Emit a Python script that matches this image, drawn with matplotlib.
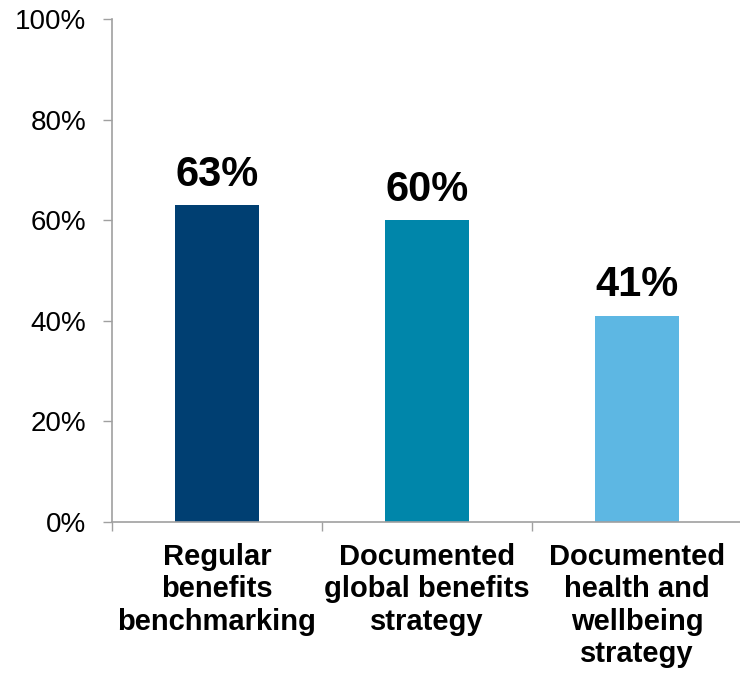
import matplotlib
matplotlib.use("Agg")
import matplotlib.pyplot as plt
from matplotlib.ticker import FixedLocator, PercentFormatter

plt.rcParams['font.family'] = ['Liberation Sans', 'DejaVu Sans']

categories = ["Regular\nbenefits\nbenchmarking",
              "Documented\nglobal benefits\nstrategy",
              "Documented\nhealth and\nwellbeing\nstrategy"]
values = [63, 60, 41]
colors = ["#003F72", "#0086AA", "#5DB7E3"]
y_ticks = [0, 20, 40, 60, 80, 100]

fig = plt.figure(figsize=(7.4, 6.75), dpi=100)
ax = fig.add_axes([112 / 740, 153 / 675, 630 / 740, 503 / 675])

x = list(range(len(categories)))
bars = ax.bar(x, values, width=0.4, color=colors)

for xi, v in zip(x, values):
    ax.annotate(f"{v}%", xy=(xi, v), xytext=(0, 14), textcoords="offset points",
                ha="center", va="baseline", fontsize=30, fontweight="bold", color="black")

ax.set_xlim(-0.5, 2.5)
ax.set_ylim(0, 100)
ax.set_yticks(y_ticks)
ax.yaxis.set_major_formatter(PercentFormatter(decimals=0))
ax.tick_params(axis="y", length=6.5, width=1, color="#A0A0A0", pad=12,
               labelsize=20, labelcolor="black")

# category boundaries carry the tick marks; labels sit under bar centres
ax.set_xticks(x)
ax.set_xticklabels([])
ax.tick_params(axis="x", which="major", length=0)
ax.xaxis.set_minor_locator(FixedLocator([-0.5, 0.5, 1.5, 2.5]))
ax.tick_params(axis="x", which="minor", length=6.5, width=1, color="#A0A0A0")

for xi, label in zip(x, categories):
    ax.annotate(label, xy=(xi, 0), xytext=(0, -15), textcoords="offset points",
                ha="center", va="top", fontsize=21, fontweight="bold",
                linespacing=1.2, annotation_clip=False)

for side in ("top", "right"):
    ax.spines[side].set_visible(False)
for side in ("left", "bottom"):
    ax.spines[side].set_color("#A0A0A0")
    ax.spines[side].set_linewidth(1.2)

fig.savefig("out.png", dpi=100)
